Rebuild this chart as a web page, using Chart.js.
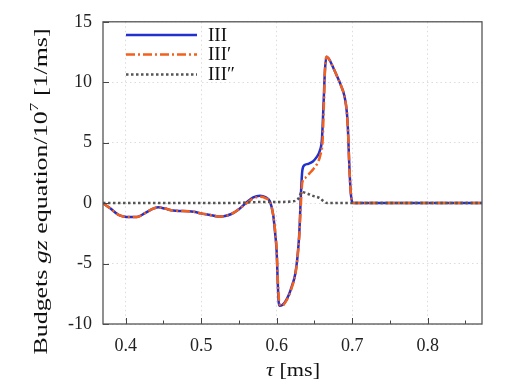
<!DOCTYPE html>
<html lang="en">
<head>
<meta charset="UTF-8">
<title>Budgets gz equation</title>
<script src="https://cdn.jsdelivr.net/npm/chart.js"></script>
<style>
  html, body { margin: 0; padding: 0; background: #fff; }
</style>
</head>
<body>
<canvas id="budgetChart" width="518" height="389"></canvas>
<script>
// values
const tauIII = [0.370,0.380,0.390,0.397,0.405,0.415,0.425,0.435,0.443,0.452,0.463,0.475,0.490,0.500,0.512,0.522,0.530,0.540,0.550,0.560,0.569,0.578,0.585,0.591,0.5955,0.598,0.600,0.6015,0.6027,0.6040,0.607,0.611,0.616,0.620,0.6245,0.6275,0.630,0.632,0.634,0.637,0.642,0.648,0.653,0.657,0.660,0.662,0.664,0.666,0.670,0.675,0.680,0.686,0.690,0.693,0.6945,0.696,0.698,0.700,0.702,0.872];
const gzIII = [0.0,-0.45,-0.95,-1.1,-1.15,-1.15,-0.85,-0.5,-0.35,-0.45,-0.62,-0.65,-0.72,-0.85,-0.98,-1.1,-1.08,-0.9,-0.5,0.05,0.47,0.61,0.5,0.15,-1.0,-2.5,-4.0,-6.6,-8.2,-8.5,-8.45,-8.2,-7.6,-6.9,-5.9,-4.5,-2.5,0.5,2.7,3.15,3.25,3.45,3.8,4.3,5.3,8.0,11.0,12.1,11.85,11.2,10.5,9.6,8.8,7.5,6.0,3.5,1.0,0.1,0,0];

const tauIIIp = [0.370,0.380,0.390,0.397,0.405,0.415,0.425,0.435,0.443,0.452,0.463,0.475,0.490,0.500,0.512,0.522,0.530,0.540,0.550,0.560,0.569,0.578,0.585,0.591,0.5955,0.598,0.600,0.6015,0.6030,0.6045,0.6075,0.611,0.616,0.620,0.6245,0.6275,0.630,0.632,0.634,0.638,0.644,0.649,0.654,0.658,0.661,0.6625,0.664,0.666,0.670,0.675,0.680,0.686,0.690,0.693,0.6945,0.696,0.698,0.700,0.702,0.872];
const gzIIIp = [0.0,-0.45,-0.95,-1.1,-1.15,-1.15,-0.85,-0.5,-0.35,-0.45,-0.62,-0.65,-0.72,-0.85,-0.98,-1.1,-1.08,-0.9,-0.5,-0.02,0.38,0.52,0.42,0.1,-1.0,-2.3,-3.8,-6.3,-8.0,-8.4,-8.5,-8.25,-7.7,-7.0,-6.0,-4.6,-2.7,-0.2,1.7,2.1,2.5,2.85,3.3,4.0,5.3,8.0,11.0,12.1,11.85,11.2,10.5,9.6,8.8,7.5,6.0,3.5,1.0,0.1,0,0];

const tauIIIpp = [0.370,0.540,0.560,0.590,0.607,0.620,0.627,0.630,0.633,0.640,0.648,0.657,0.663,0.667,0.872];
const gzIIIpp = [0,0,0.05,0.1,0.1,0.15,0.25,0.5,0.92,0.8,0.6,0.42,0.12,0,0];

const seriesNames = ['III', 'III\u2032', 'III\u2033'];
const xTicks = [0.4, 0.5, 0.6, 0.7, 0.8];
const xMinorTicks = [0.45, 0.55, 0.65, 0.75, 0.85];
const yTicks = [-10, -5, 0, 5, 10, 15];

const SERIF = '"Liberation Serif", "DejaVu Serif", serif';

function pts(xs, ys) {
    return xs.map((x, i) => ({ x: x, y: ys[i] }));
}

// draws a row of text pieces with different fonts, centred on x,
// stretched sideways to a given width (the original font is wider)
function richText(ctx, parts, x, y, width) {
    let total = 0;
    parts.forEach(p => { ctx.font = p.font; total += ctx.measureText(p.text).width; });
    const k = width ? width / total : 1;
    ctx.save();
    ctx.translate(x, y);
    ctx.scale(k, 1);
    let cx = -total / 2;
    parts.forEach(p => {
        ctx.font = p.font;
        ctx.fillText(p.text, cx, p.dy || 0);
        cx += ctx.measureText(p.text).width;
    });
    ctx.restore();
}

const decor = {
    id: 'decor',
    afterDraw(chart) {
        const ctx = chart.ctx;
        const a = chart.chartArea;
        const xs = chart.scales.x, ys = chart.scales.y;
        ctx.save();

        // inward ticks
        ctx.strokeStyle = '#444';
        ctx.lineWidth = 1;
        ctx.setLineDash([]);
        ctx.beginPath();
        xTicks.forEach(t => { const px = Math.round(xs.getPixelForValue(t)) + 0.5; ctx.moveTo(px, a.bottom); ctx.lineTo(px, a.bottom - 6); });
        xMinorTicks.forEach(t => { const px = Math.round(xs.getPixelForValue(t)) + 0.5; ctx.moveTo(px, a.bottom); ctx.lineTo(px, a.bottom - 3.5); });
        yTicks.forEach(t => { const py = Math.round(ys.getPixelForValue(t)) + 0.5; ctx.moveTo(a.left, py); ctx.lineTo(a.left + 6, py); });
        ctx.stroke();

        // box
        ctx.strokeStyle = '#555';
        ctx.lineWidth = 1.3;
        ctx.strokeRect(a.left, a.top, a.right - a.left, a.bottom - a.top);

        // legend
        const rows = [35, 54.5, 74.5];
        chart.data.datasets.forEach((ds, i) => {
            ctx.strokeStyle = ds.borderColor;
            ctx.lineWidth = ds.borderWidth;
            ctx.setLineDash(ds.borderDash || []);
            ctx.beginPath();
            ctx.moveTo(126, rows[i]);
            ctx.lineTo(197, rows[i]);
            ctx.stroke();
            ctx.setLineDash([]);
            ctx.fillStyle = '#111';
            ctx.font = '19px ' + SERIF;
            ctx.textAlign = 'left';
            ctx.textBaseline = 'middle';
            ctx.fillText(ds.label, 208, rows[i] + 1);
        });

        // axis titles
        ctx.fillStyle = '#111';
        ctx.textAlign = 'left';
        ctx.textBaseline = 'middle';
        const rom = '19px ' + SERIF, ita = 'italic 19px ' + SERIF, sup = '13px ' + SERIF;
        richText(ctx, [{ text: '\u03C4', font: ita }, { text: ' [ms]', font: rom }], 293, 371, 54);

        ctx.save();
        ctx.translate(42, 191.5);
        ctx.rotate(-Math.PI / 2);
        richText(ctx, [
            { text: 'Budgets ', font: rom },
            { text: 'gz', font: ita },
            { text: ' equation/10', font: rom },
            { text: '7', font: sup, dy: -7 },
            { text: ' [1/ms]', font: rom }
        ], 0, 0, 326);
        ctx.restore();

        ctx.restore();
    }
};

const ctx = document.getElementById('budgetChart').getContext('2d');
new Chart(ctx, {
    type: 'line',
    data: {
        datasets: [
            {
                label: seriesNames[0],
                data: pts(tauIII, gzIII),
                borderColor: '#2231cc',
                borderWidth: 2.5,
                order: 2
            },
            {
                label: seriesNames[1],
                data: pts(tauIIIp, gzIIIp),
                borderColor: '#f2601e',
                borderWidth: 2.5,
                borderDash: [9, 3, 2, 3],
                order: 1
            },
            {
                label: seriesNames[2],
                data: pts(tauIIIpp, gzIIIpp),
                borderColor: '#555555',
                borderWidth: 2.5,
                borderDash: [2.5, 2.5],
                order: 0
            }
        ]
    },
    options: {
        responsive: false,
        animation: false,
        devicePixelRatio: 1,
        layout: { padding: { left: 0, right: 36, top: 20, bottom: 0 } },
        elements: {
            point: { radius: 0 },
            line: { cubicInterpolationMode: 'monotone', fill: false, borderCapStyle: 'butt' }
        },
        plugins: { legend: { display: false }, tooltip: { enabled: false } },
        scales: {
            x: {
                type: 'linear',
                min: 0.37,
                max: 0.872,
                afterFit: s => { s.height = 65; },
                afterBuildTicks: s => { s.ticks = xTicks.map(v => ({ value: v })); },
                grid: { color: '#dcdcdc', lineWidth: 1, drawTicks: false },
                border: { display: false, dash: [1.5, 3] },
                ticks: {
                    padding: 11,
                    color: '#222',
                    font: { family: SERIF, size: 18 },
                    callback: v => v.toFixed(1)
                }
            },
            y: {
                min: -10,
                max: 15,
                afterFit: s => { s.width = 103; },
                afterBuildTicks: s => { s.ticks = yTicks.map(v => ({ value: v })); },
                grid: { color: '#dcdcdc', lineWidth: 1, drawTicks: false },
                border: { display: false, dash: [1.5, 3] },
                ticks: {
                    padding: 11,
                    color: '#222',
                    font: { family: SERIF, size: 18 },
                    callback: v => String(v)
                }
            }
        }
    },
    plugins: [decor]
});
</script>
</body>
</html>
